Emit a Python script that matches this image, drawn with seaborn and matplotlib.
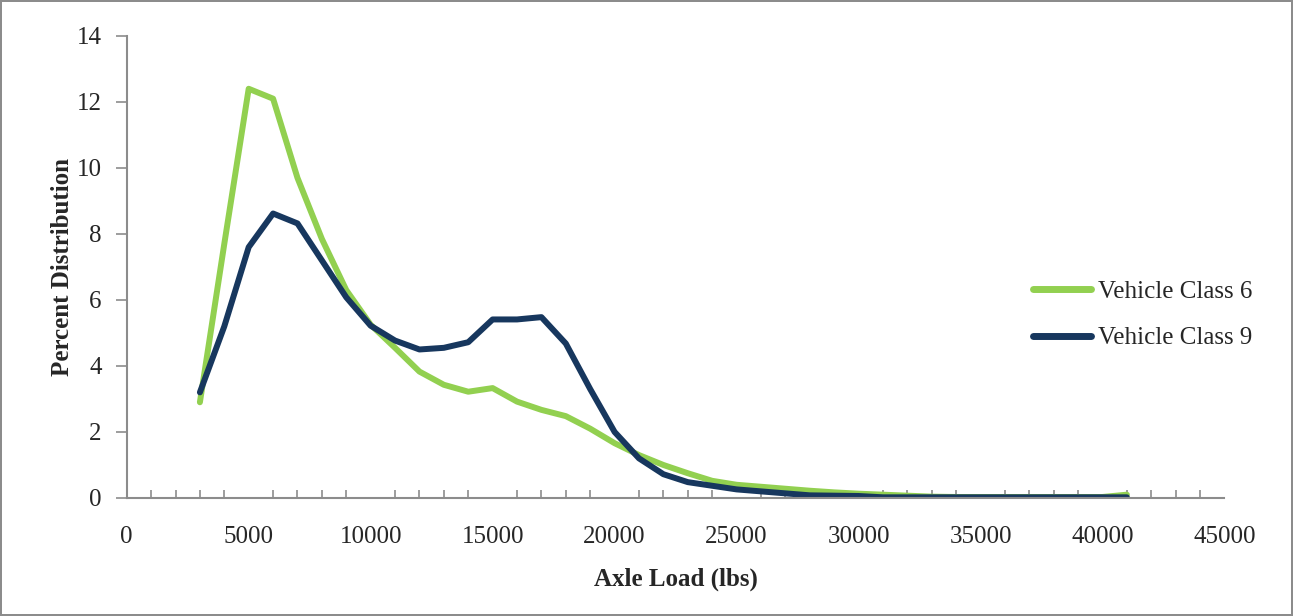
import matplotlib
matplotlib.use('Agg')
import matplotlib.pyplot as plt
from matplotlib.ticker import MultipleLocator
import pandas as pd
import seaborn as sns

sns.set_style('white')
plt.rcParams['font.family'] = ['Liberation Serif', 'DejaVu Serif']

axle_load = list(range(3000, 42000, 1000))
class6 = [2.9, 7.7, 12.4, 12.1, 9.7, 7.85, 6.3, 5.25, 4.55, 3.83, 3.43, 3.22, 3.33,
          2.92, 2.67, 2.48, 2.1, 1.66, 1.3, 1.0, 0.75, 0.52, 0.4, 0.34, 0.28, 0.22,
          0.17, 0.13, 0.1, 0.07, 0.04, 0.03, 0.03, 0.03, 0.03, 0.03, 0.03, 0.03, 0.1]
class9 = [3.2, 5.2, 7.6, 8.62, 8.32, 7.2, 6.08, 5.22, 4.77, 4.5, 4.55, 4.72, 5.41,
          5.41, 5.48, 4.68, 3.3, 2.0, 1.2, 0.72, 0.48, 0.37, 0.26, 0.2, 0.14, 0.08,
          0.07, 0.06, 0.02, 0.02, 0.02, 0.02, 0.02, 0.02, 0.02, 0.02, 0.02, 0.02, 0.02]
series_names = ['Vehicle Class 6', 'Vehicle Class 9']
colors = ['#92D050', '#17375E']

df = pd.concat([
    pd.DataFrame({'load': axle_load, 'pct': class6, 'cls': series_names[0]}),
    pd.DataFrame({'load': axle_load, 'pct': class9, 'cls': series_names[1]}),
])

fig = plt.figure(figsize=(12.93, 6.16), dpi=100)
fig.patch.set_edgecolor('#8c8c8c')
fig.patch.set_linewidth(1.5)
ax = fig.add_axes([0.098, 0.1916, 0.849, 0.75])

sns.lineplot(data=df, x='load', y='pct', hue='cls', palette=colors,
             linewidth=4.3, ax=ax, legend=True)

ax.set_xlim(0, 45000)
ax.set_ylim(0, 14)
ax.xaxis.set_major_locator(MultipleLocator(5000))
ax.xaxis.set_minor_locator(MultipleLocator(1000))
ax.yaxis.set_major_locator(MultipleLocator(2))

for s in ['top', 'right']:
    ax.spines[s].set_visible(False)
for s in ['left', 'bottom']:
    ax.spines[s].set_color('#8c8c8c')
    ax.spines[s].set_linewidth(1.5)

ax.tick_params(axis='x', which='major', direction='inout', length=12, width=1.2,
               color='#8c8c8c', labelsize=18, pad=14)
ax.tick_params(axis='x', which='minor', direction='in', length=6, width=1.2,
               color='#8c8c8c', bottom=True)
ax.tick_params(axis='y', which='major', direction='out', length=8, width=1.2,
               color='#8c8c8c', labelsize=18, pad=10, left=True)

ax.set_xlabel('Axle Load (lbs)', fontsize=18, fontweight='bold', labelpad=14)
ax.set_ylabel('Percent Distribution', fontsize=18, fontweight='bold', labelpad=2)

leg = ax.legend(title=None, frameon=False, fontsize=18, handlelength=2.3,
                handletextpad=0.3, loc='center left', borderaxespad=0, borderpad=0,
                bbox_to_anchor=(1033 / 1293, 1 - 315 / 616),
                bbox_transform=fig.transFigure, labelspacing=0.95)
for line in leg.get_lines():
    line.set_linewidth(5)
    line.set_solid_capstyle('round')

fig.savefig('out.png', dpi=100, edgecolor=fig.get_edgecolor())
